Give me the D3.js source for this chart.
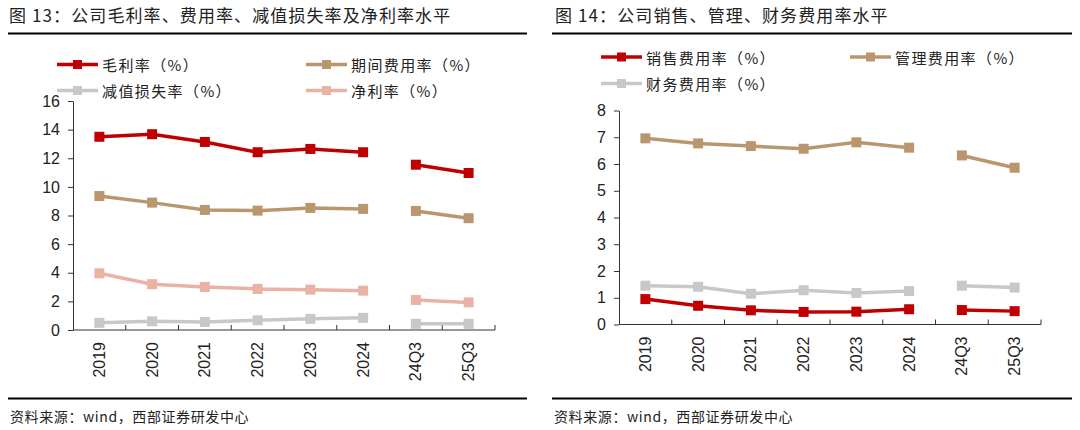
<!DOCTYPE html>
<html>
<head>
<meta charset="utf-8">
<script src="https://cdn.jsdelivr.net/npm/d3@7"></script>
<style>
  body { margin: 0; background: #fff; }
  svg { display: block; }
  text { fill: #222; }
  .cn { font-family: "Noto Sans CJK SC", sans-serif; }
  .num { font-family: "Liberation Sans", Arial, sans-serif; }
</style>
</head>
<body>
<svg id="chart" width="1080" height="430"></svg>
<script>
// categories shared by both panels
var categories = ['2019', '2020', '2021', '2022', '2023', '2024', '24Q3', '25Q3'];

// left panel series (%)
var grossMargin = [13.5, 13.68, 13.14, 12.42, 12.65, 12.42, 11.55, 10.97];
var periodExpense = [9.36, 8.9, 8.39, 8.34, 8.53, 8.46, 8.32, 7.81];
var impairment = [0.5, 0.61, 0.56, 0.68, 0.78, 0.85, 0.43, 0.43];
var netMargin = [3.96, 3.2, 3.01, 2.87, 2.82, 2.75, 2.1, 1.93];
var leftTicks = [0, 2, 4, 6, 8, 10, 12, 14, 16];

// right panel series (%)
var sellingExp = [0.95, 0.7, 0.53, 0.47, 0.48, 0.57, 0.54, 0.5];
var adminExp = [6.96, 6.77, 6.67, 6.57, 6.81, 6.61, 6.32, 5.86];
var financeExp = [1.45, 1.41, 1.15, 1.28, 1.18, 1.25, 1.45, 1.38];
var rightTicks = [0, 1, 2, 3, 4, 5, 6, 7, 8];

var RED = '#C00000', TAN = '#BA966F', GREY = '#C8C8C8', PINK = '#E9B2A4';

var svg = d3.select('#chart');

// annual points and quarter points are drawn as separate segments
function segmentsOf(values) {
    var pts = categories.map(function(c, i) { return { c: c, v: values[i], q: c.indexOf('Q') >= 0 }; });
    return [pts.filter(function(p) { return !p.q; }), pts.filter(function(p) { return p.q; })];
}

function drawPanel(cfg) {
    var g = svg.append('g');

    // title + rules
    g.append('text').attr('class', 'cn')
        .attr('x', cfg.titleX).attr('y', 22)
        .attr('font-size', 17).attr('letter-spacing', 1.1).attr('fill', '#333')
        .text(cfg.title);
    g.append('line').attr('x1', cfg.ruleX1).attr('x2', cfg.ruleX2)
        .attr('y1', 33.5).attr('y2', 33.5).attr('stroke', '#000').attr('stroke-width', 2);
    g.append('line').attr('x1', cfg.ruleX1).attr('x2', cfg.ruleX2)
        .attr('y1', 398.5).attr('y2', 398.5).attr('stroke', '#000').attr('stroke-width', 2);
    g.append('text').attr('class', 'cn')
        .attr('x', cfg.ruleX1 + 2).attr('y', 422)
        .attr('font-size', 14).attr('letter-spacing', 0.6).attr('fill', '#333')
        .text('资料来源：wind，西部证券研发中心');

    var x = d3.scaleBand().domain(categories).range([cfg.x0, cfg.x1]);
    var y = d3.scaleLinear().domain([cfg.ticks[0], cfg.ticks[cfg.ticks.length - 1]]).range([cfg.y0, cfg.y1]);

    // y axis
    var yAxis = g.append('g').attr('transform', 'translate(' + cfg.x0 + ',0)')
        .call(d3.axisLeft(y).tickValues(cfg.ticks).tickSize(5).tickPadding(8).tickSizeOuter(0));
    yAxis.select('.domain').attr('stroke', '#333');
    yAxis.selectAll('.tick line').attr('stroke', '#333');
    yAxis.selectAll('text').attr('class', 'num').attr('font-size', 16).attr('fill', '#222');

    // x axis, ticks at band edges pointing up
    var edges = categories.map(function(c) { return x(c); }).concat([cfg.x1]);
    g.append('line').attr('x1', cfg.x0).attr('x2', cfg.x1).attr('y1', cfg.y0).attr('y2', cfg.y0)
        .attr('stroke', '#333');
    g.selectAll('.xt').data(edges.slice(1)).enter().append('line')
        .attr('x1', function(d) { return d; }).attr('x2', function(d) { return d; })
        .attr('y1', cfg.y0).attr('y2', cfg.y0 - 5).attr('stroke', '#333');
    g.selectAll('.xl').data(categories).enter().append('text')
        .attr('class', 'num').attr('font-size', 16).attr('fill', '#222')
        .attr('text-anchor', 'end').attr('dominant-baseline', 'central')
        .attr('transform', function(d) {
            return 'translate(' + (x(d) + x.bandwidth() / 2) + ',' + (cfg.y0 + 12) + ') rotate(-90)';
        })
        .text(function(d) { return d; });

    var line = d3.line()
        .x(function(d) { return x(d.c) + x.bandwidth() / 2; })
        .y(function(d) { return y(d.v); });

    cfg.series.forEach(function(s) {
        var segs = segmentsOf(s.values);
        segs.forEach(function(seg) {
            g.append('path').datum(seg).attr('d', line)
                .attr('fill', 'none').attr('stroke', s.color).attr('stroke-width', 3.5);
        });
        g.selectAll(null).data(segs[0].concat(segs[1])).enter()
            .append('rect')
            .attr('x', function(d) { return x(d.c) + x.bandwidth() / 2 - 5; })
            .attr('y', function(d) { return y(d.v) - 5; })
            .attr('width', 10).attr('height', 10).attr('fill', s.color);

        // legend entry
        var lg = g.append('g');
        lg.append('line').attr('x1', s.lx).attr('x2', s.lx + 41).attr('y1', s.ly).attr('y2', s.ly)
            .attr('stroke', s.color).attr('stroke-width', 3.5);
        lg.append('rect').attr('x', s.lx + 16).attr('y', s.ly - 4.5).attr('width', 9).attr('height', 9)
            .attr('fill', s.color);
        lg.append('text').attr('class', 'cn').attr('x', s.lx + 45).attr('y', s.ly)
            .attr('dominant-baseline', 'central').attr('font-size', 15).attr('letter-spacing', 1.4)
            .attr('fill', '#222')
            .text(s.name);
    });
}

drawPanel({
    title: '图 13：公司毛利率、费用率、减值损失率及净利率水平',
    titleX: 9, ruleX1: 8, ruleX2: 527,
    x0: 73, x1: 495, y0: 330, y1: 101,
    ticks: leftTicks,
    series: [
        { name: '期间费用率（%）', values: periodExpense, color: TAN, lx: 306, ly: 64.5 },
        { name: '净利率（%）', values: netMargin, color: PINK, lx: 306, ly: 90.5 },
        { name: '减值损失率（%）', values: impairment, color: GREY, lx: 57, ly: 90.5 },
        { name: '毛利率（%）', values: grossMargin, color: RED, lx: 57, ly: 64.5 }
    ]
});

drawPanel({
    title: '图 14：公司销售、管理、财务费用率水平',
    titleX: 555, ruleX1: 552, ruleX2: 1072,
    x0: 619, x1: 1041, y0: 324.5, y1: 110.5,
    ticks: rightTicks,
    series: [
        { name: '管理费用率（%）', values: adminExp, color: TAN, lx: 850, ly: 57 },
        { name: '财务费用率（%）', values: financeExp, color: GREY, lx: 601, ly: 83.5 },
        { name: '销售费用率（%）', values: sellingExp, color: RED, lx: 601, ly: 57 }
    ]
});
</script>
</body>
</html>
